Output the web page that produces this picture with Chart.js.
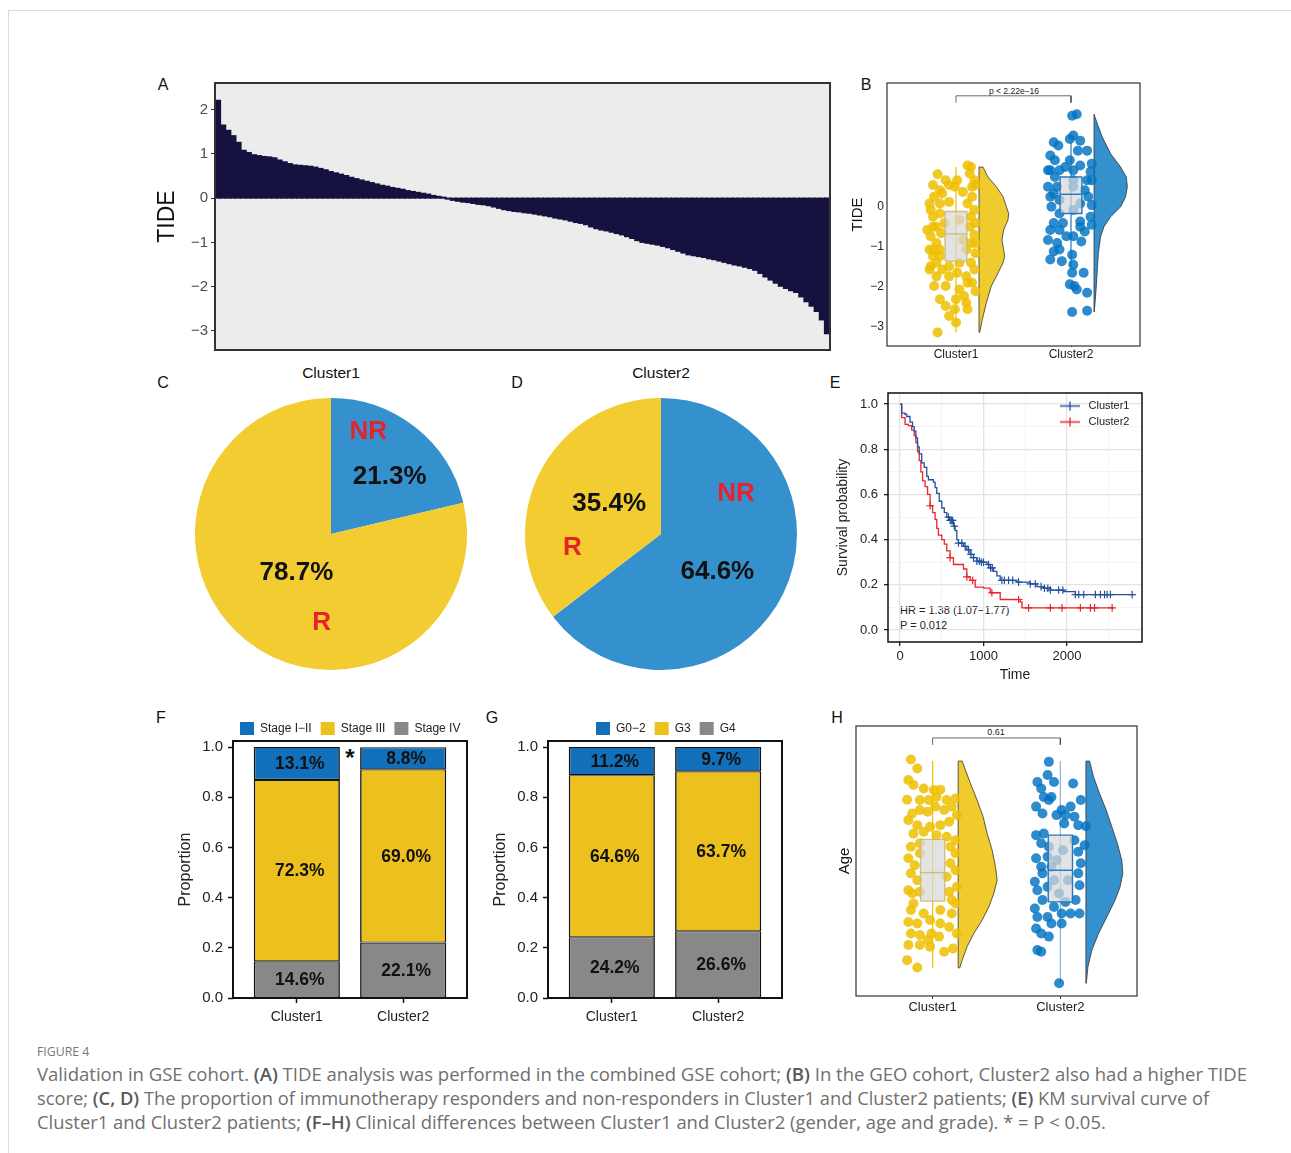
<!DOCTYPE html>
<html>
<head>
<meta charset="utf-8">
<title>Figure 4</title>
<script src="https://cdn.jsdelivr.net/npm/chart.js@4.4.1/dist/chart.umd.min.js"></script>
<style>
  body { margin: 0; width: 1291px; height: 1153px; overflow: hidden; position: relative; background: #fff; font-family: "Liberation Sans", Arial, sans-serif; color: #111; }
  canvas { position: absolute; }
  .c { position: absolute; transform: translate(-50%, -50%); white-space: nowrap; }
  .lt { position: absolute; white-space: nowrap; }
  #card { position: absolute; left: 8px; top: 10px; width: 1400px; height: 1300px; border-left: 1px solid #dcdcdc; border-top: 1px solid #dcdcdc; }
  .cap { position: absolute; left: 37px; font-family: "Open Sans", "Noto Sans", sans-serif; font-size: 18px; line-height: 24px; color: #6f6f6f; white-space: nowrap; transform-origin: 0 50%; }
  .cap b { font-weight: 600; color: #585858; }
</style>
</head>
<body>
<div id="card"></div>

<div class="c" style="left:163px;top:85px;font-size:16px">A</div>
<div class="c" style="left:866px;top:85px;font-size:16px">B</div>
<div class="c" style="left:163px;top:383px;font-size:16px">C</div>
<div class="c" style="left:517px;top:383px;font-size:16px">D</div>
<div class="c" style="left:835px;top:383px;font-size:16px">E</div>
<div class="c" style="left:161px;top:718px;font-size:16px">F</div>
<div class="c" style="left:492px;top:718px;font-size:16px">G</div>
<div class="c" style="left:837px;top:718px;font-size:16px">H</div>

<div class="c" style="left:331px;top:373px;font-size:15.5px">Cluster1</div>
<div class="c" style="left:661px;top:373px;font-size:15.5px">Cluster2</div>
<div class="c" style="left:1014px;top:91px;font-size:8.5px;color:#222">p &lt; 2.22e&#8722;16</div>
<div class="c" style="left:996px;top:732px;font-size:9px;color:#222">0.61</div>
<div class="c" style="left:350px;top:758px;font-size:24px;font-weight:bold">*</div>
<div class="lt" style="left:900px;top:604px;font-size:11px;line-height:13px;color:#222">HR = 1.38 (1.07&#8722;1.77)</div>
<div class="lt" style="left:900px;top:619px;font-size:11px;line-height:13px;color:#222">P = 0.012</div>

<div class="cap fit" data-w="52" style="top:1043px;font-size:13px;line-height:16px;color:#777">FIGURE 4</div>
<div class="cap fit" data-w="1210" style="top:1062px">Validation in GSE cohort. <b>(A)</b> TIDE analysis was performed in the combined GSE cohort; <b>(B)</b> In the GEO cohort, Cluster2 also had a higher TIDE</div>
<div class="cap fit" data-w="1172" style="top:1086px">score; <b>(C, D)</b> The proportion of immunotherapy responders and non-responders in Cluster1 and Cluster2 patients; <b>(E)</b> KM survival curve of</div>
<div class="cap fit" data-w="1069" style="top:1110px">Cluster1 and Cluster2 patients; <b>(F&#8211;H)</b> Clinical differences between Cluster1 and Cluster2 (gender, age and grade). * = P &lt; 0.05.</div>
<div class="lt fit" data-w="282" style="left:228px;top:85px;font-size:29px;font-weight:bold;line-height:30px;transform-origin:0 50%">Combined GSE cohort</div>

<script>
// ---------- data ----------
const clusters = ['Cluster1', 'Cluster2'];

// A: sorted TIDE score per sample
const tideSorted = [
  2.20, 1.64, 1.52, 1.40, 1.25, 1.07, 1.02, 0.97, 0.95, 0.93,
  0.92, 0.90, 0.85, 0.81, 0.77, 0.74, 0.73, 0.72, 0.71, 0.69,
  0.66, 0.63, 0.59, 0.56, 0.53, 0.50, 0.46, 0.43, 0.40, 0.37,
  0.34, 0.31, 0.28, 0.26, 0.23, 0.21, 0.19, 0.16, 0.14, 0.12,
  0.10, 0.08, 0.05, 0.03, 0.01, -0.01, -0.04, -0.06, -0.08, -0.09,
  -0.11, -0.13, -0.14, -0.16, -0.19, -0.22, -0.25, -0.27, -0.29, -0.30,
  -0.32, -0.33, -0.35, -0.37, -0.39, -0.41, -0.44, -0.46, -0.48, -0.51,
  -0.54, -0.56, -0.59, -0.64, -0.68, -0.71, -0.73, -0.76, -0.79, -0.82,
  -0.86, -0.90, -0.95, -0.99, -1.01, -1.03, -1.05, -1.08, -1.11, -1.15,
  -1.19, -1.23, -1.27, -1.29, -1.31, -1.33, -1.36, -1.38, -1.41, -1.44,
  -1.47, -1.50, -1.52, -1.55, -1.58, -1.62, -1.69, -1.77, -1.84, -1.91,
  -1.98, -2.03, -2.08, -2.12, -2.22, -2.33, -2.43, -2.55, -2.74, -3.05
];
const tideTicks = [2, 1, 0, -1, -2, -3];

// B: TIDE raincloud (point = [jitter, value])
const tideC1Pts = [
  [-0.16,0.81],[-0.09,0.66],[-0.20,0.54],[-0.14,0.41],[-0.01,0.50],[0.06,0.37],[0.13,0.99],[0.10,1.03],[0.16,0.66],[0.17,0.54],
  [0.10,0.08],[0.16,-0.08],[-0.20,-0.25],[-0.14,-0.17],[-0.06,0.12],[-0.17,-0.50],[-0.22,-0.74],[-0.13,-0.66],[0.12,-0.50],[0.16,-0.70],
  [0.17,-0.91],[0.09,-1.07],[-0.14,-1.07],[-0.20,-1.24],[-0.17,-1.40],[-0.12,-1.57],[-0.06,-1.49],[0.13,-1.40],[0.16,-1.57],[0.09,-1.74],
  [-0.17,-1.74],[-0.19,-1.98],[-0.09,-1.98],[0.03,-2.07],[0.14,-1.90],[0.17,-2.11],[-0.14,-2.31],[0.00,-2.31],[0.07,-2.23],[-0.09,-2.48],
  [-0.01,-2.56],[-0.06,-2.73],[0.10,-2.56],[0.09,-2.40],[0.00,-2.89],[-0.16,-3.14],[-0.25,-0.58],[-0.23,-1.07],[-0.23,0.08],[0.01,0.66],
  [0.12,0.83],[-0.14,0.08],[0.14,0.25],[0.03,-0.33],[-0.10,-0.41],[0.03,-1.40],[-0.06,-1.74],[0.01,-1.65],[0.10,-1.90],[-0.23,-1.57],
  [-0.17,-0.91],[-0.22,-0.08],[-0.19,0.25],[-0.12,0.33],[0.13,-0.25],[0.17,-0.41],[0.06,-0.83],[-0.22,-1.49],[-0.14,-1.24],[0.17,-1.16],
  [0.14,0.50],[-0.06,0.54],[-0.20,-0.50],[0.13,-0.91],[-0.19,-1.07]
];
const tideC2Pts = [
  [0.05,2.31],[0.01,2.27],[0.02,1.78],[-0.01,1.69],[-0.15,1.61],[-0.11,1.53],[-0.18,1.28],[0.06,1.40],[0.14,1.40],[-0.01,1.16],
  [0.08,1.03],[0.18,1.07],[-0.18,0.91],[-0.10,0.91],[0.17,0.87],[-0.14,0.74],[0.02,0.66],[0.14,0.66],[-0.20,0.50],[-0.12,0.50],
  [0.18,0.66],[-0.18,0.25],[-0.10,0.17],[0.15,0.25],[0.08,0.08],[-0.17,0.00],[-0.10,-0.17],[0.02,-0.08],[0.17,-0.25],[0.18,-0.45],
  [-0.18,-0.58],[-0.10,-0.58],[0.08,-0.50],[-0.20,-0.83],[-0.12,-0.91],[0.02,-0.74],[-0.15,-1.12],[-0.10,-1.07],[-0.18,-1.32],[-0.08,-1.36],
  [0.09,-0.87],[0.01,-1.20],[0.02,-1.45],[0.11,-1.65],[0.01,-1.65],[-0.01,-1.94],[0.03,-1.98],[0.05,-2.07],[0.14,-2.15],[0.14,-2.60],
  [0.01,-2.63],[0.08,-0.37],[-0.07,-0.41],[-0.15,-0.41],[0.12,-0.62],[-0.04,-0.74],[0.02,0.50],[0.12,0.41],[-0.14,1.16],[0.08,1.65],
  [-0.05,0.99],[0.02,0.91],[-0.20,0.91],[-0.15,0.33],[0.18,0.04]
];
const tideV1Y = [0.99, 0.74, 0.50, 0.25, 0.00, -0.17, -0.33, -0.58, -0.83, -1.07, -1.24, -1.40, -1.74, -1.98, -2.40, -2.81, -3.14];
const tideV1W = [0.035, 0.078, 0.151, 0.209, 0.238, 0.258, 0.252, 0.214, 0.200, 0.214, 0.223, 0.209, 0.151, 0.107, 0.064, 0.029, 0.006];
const tideV2Y = [2.31, 2.07, 1.74, 1.32, 0.99, 0.74, 0.50, 0.25, 0.00, -0.25, -0.50, -0.74, -1.16, -1.57, -1.98, -2.40, -2.63];
const tideV2W = [0.005, 0.029, 0.072, 0.145, 0.232, 0.281, 0.290, 0.275, 0.232, 0.145, 0.087, 0.058, 0.038, 0.029, 0.020, 0.009, 0.002];
const tideC1Box = [-3.14, -1.36, -0.68, -0.12, 0.99];   // low, q1, median, q3, high
const tideC2Box = [-1.49, -0.17, 0.31, 0.74, 1.62];
const tideBracketX = [1, 1, 2, 2];
const tideBracketY = [2.60, 2.77, 2.77, 2.60];
const tideBTicks = [0, -1, -2, -3];

// C, D: responders
const pieC1 = [21.3, 78.7];   // NR, R
const pieC2 = [64.6, 35.4];

// E: KM curves
const kmC1T = [0,20,60,80,120,150,170,190,210,230,260,290,320,340,400,420,440,470,500,530,560,590,640,660,680,700,760,800,840,880,920,960,1040,1080,1120,1160,1200,1400,1560,1640,1720,1800,1960,2100,2800];
const kmC1S = [1.0,0.96,0.955,0.945,0.92,0.9,0.88,0.85,0.81,0.78,0.74,0.72,0.68,0.665,0.655,0.63,0.605,0.57,0.54,0.52,0.5,0.485,0.46,0.44,0.4,0.385,0.37,0.355,0.335,0.32,0.305,0.3,0.29,0.275,0.26,0.24,0.22,0.212,0.204,0.192,0.185,0.177,0.17,0.157,0.157];
const kmC2T = [0,20,60,100,140,170,190,210,230,250,270,300,330,360,390,420,440,460,500,530,560,600,640,760,800,840,900,1000,1080,1200,1440,1460,2560];
const kmC2S = [1.0,0.94,0.91,0.905,0.885,0.86,0.83,0.79,0.75,0.70,0.66,0.635,0.6,0.55,0.52,0.49,0.45,0.42,0.4,0.38,0.35,0.32,0.29,0.27,0.235,0.22,0.19,0.185,0.165,0.135,0.125,0.098,0.098];
const kmC1Cens = [580,600,615,630,650,700,740,780,820,850,880,920,950,975,1000,1060,1085,1105,1220,1250,1300,1350,1420,1560,1620,1690,1730,1770,1800,1900,1950,2100,2140,2200,2340,2400,2450,2480,2520,2780];
const kmC2Cens = [360,600,800,870,1100,1420,1540,1800,1940,2160,2280,2330,2540];
const kmXTicks = [0, 500, 1000, 1500, 2000, 2500];
const kmYTicks = [0, 0.1, 0.2, 0.3, 0.4, 0.5, 0.6, 0.7, 0.8, 0.9, 1.0];

// F, G: proportions, bottom to top
const stageNames = ['Stage IV', 'Stage III', 'Stage I\u2212II'];
const stageC1 = [14.6, 72.3, 13.1];
const stageC2 = [22.1, 69.0, 8.8];
const gradeNames = ['G4', 'G3', 'G0\u22122'];
const gradeC1 = [24.2, 64.6, 11.2];
const gradeC2 = [26.6, 63.7, 9.7];
const propTicks = [0, 0.2, 0.4, 0.6, 0.8, 1.0];

// H: age raincloud
const ageC1Pts = [
  [-0.17,86.3],[-0.12,84.0],[-0.19,81.0],[-0.15,79.7],[-0.07,78.8],[0.01,78.4],[0.06,78.5],[-0.20,75.9],[-0.10,75.8],[-0.03,75.8],
  [0.03,76.6],[0.11,75.8],[0.18,76.2],[-0.16,72.3],[-0.10,73.2],[-0.04,72.8],[0.02,74.1],[0.09,73.2],[0.15,74.1],[-0.19,70.6],
  [-0.12,69.3],[-0.02,68.9],[0.06,69.3],[0.13,70.2],[0.19,71.9],[-0.15,67.1],[-0.07,67.6],[0.03,66.7],[0.11,66.3],[0.18,65.4],
  [-0.17,63.7],[-0.10,64.6],[0.14,63.7],[0.18,62.0],[-0.19,60.7],[-0.14,58.9],[0.14,59.4],[0.18,57.6],[-0.17,56.8],[-0.12,55.0],
  [0.11,55.9],[0.19,53.3],[-0.19,52.4],[-0.10,52.0],[0.13,52.0],[0.18,49.0],[-0.15,49.0],[-0.17,47.3],[-0.07,46.4],[0.06,47.3],
  [0.15,46.4],[-0.19,44.2],[-0.12,43.8],[-0.02,44.7],[0.06,43.8],[0.13,42.9],[0.19,41.2],[-0.17,41.2],[-0.10,40.8],[-0.01,41.2],
  [0.05,40.4],[-0.19,38.2],[-0.10,38.2],[-0.02,37.8],[0.09,36.5],[0.16,37.3],[-0.20,34.3],[-0.12,32.4],[-0.04,39.5],[-0.10,62.0],
  [-0.16,51.6],[0.15,49.9]
];
const ageC2Pts = [
  [-0.09,85.7],[-0.18,80.5],[-0.10,82.3],[-0.05,80.5],[0.10,80.1],[-0.15,78.8],[-0.13,76.6],[-0.07,76.6],[-0.19,74.1],[-0.09,75.8],
  [0.01,73.2],[0.08,74.1],[0.16,75.8],[-0.14,72.3],[-0.03,71.9],[0.04,71.9],[0.11,71.5],[0.20,69.0],[-0.19,66.7],[-0.13,67.1],
  [0.03,69.7],[0.14,69.3],[-0.15,64.6],[-0.09,63.7],[0.11,65.4],[0.19,64.1],[-0.19,60.7],[-0.10,61.1],[0.14,62.4],[-0.15,58.5],
  [-0.07,58.5],[0.16,59.4],[-0.20,54.6],[-0.14,56.8],[0.14,56.8],[-0.18,52.4],[-0.10,53.3],[0.15,53.7],[-0.20,47.7],[-0.14,49.9],
  [-0.05,48.1],[0.04,49.4],[0.12,49.9],[-0.18,45.5],[-0.10,45.5],[0.01,46.4],[0.08,46.4],[0.15,46.4],[-0.15,41.2],[-0.07,43.8],
  [0.01,43.8],[-0.19,42.5],[-0.09,40.4],[-0.18,36.9],[-0.15,36.5],[-0.01,28.3],[-0.03,60.2],[0.06,55.0],[-0.01,51.6],[-0.05,55.0],
  [0.02,62.8]
];
const ageV1Y = [85.9, 80.1, 75.8, 71.5, 67.1, 62.8, 58.5, 55.0, 51.6, 48.1, 44.7, 41.2, 37.8, 34.3, 32.3];
const ageV1W = [0.031, 0.096, 0.148, 0.195, 0.227, 0.266, 0.292, 0.305, 0.279, 0.240, 0.188, 0.122, 0.070, 0.031, 0.013];
const ageV2Y = [85.9, 81.8, 77.5, 73.2, 68.9, 64.5, 60.2, 56.8, 53.3, 49.9, 45.5, 41.2, 36.9, 32.6, 28.3];
const ageV2W = [0.029, 0.060, 0.107, 0.159, 0.203, 0.247, 0.281, 0.289, 0.268, 0.229, 0.164, 0.099, 0.047, 0.016, 0.003];
const ageC1Box = [32.3, 49.6, 57.0, 65.6, 85.9];
const ageC2Box = [28.3, 49.4, 57.6, 66.7, 85.9];
const ageBracketY = [90.1, 91.9, 91.9, 90.1];

// ---------- colours ----------
const navy = '#15123f';
const yelPt = 'rgba(239,192,0,0.85)', yelViolin = '#F0CB2D', yelLine = '#EFC000', yelBox = 'rgba(205,185,110,0.9)';
const bluPt = 'rgba(0,115,194,0.82)', bluViolin = '#3590CE', bluLine = '#1f78c0';
const pieBlue = '#3590CE', pieYellow = '#F2CC30', pieRed = '#E8222A';
const kmBlue = '#24529c', kmRed = '#E8262B';
const barCols = ['#888888', '#EDC11D', '#1170B9'];

Chart.defaults.font.family = '"Liberation Sans", Arial, sans-serif';
Chart.defaults.color = '#222';
Chart.defaults.animation = false;
Chart.defaults.plugins.legend.display = false;
Chart.defaults.plugins.tooltip.enabled = false;

const minus = v => String(v).replace('-', '\u2212');
const setTicks = arr => s => { s.ticks = arr.map(v => ({ value: v })); };

function makeCanvas(left, top, w, h) {
  const c = document.createElement('canvas');
  c.width = w; c.height = h;
  c.style.left = left + 'px'; c.style.top = top + 'px';
  c.style.width = w + 'px'; c.style.height = h + 'px';
  document.body.appendChild(c);
  return c;
}

// ---------- plugins ----------
const framePlugin = {
  id: 'frame',
  defaults: { color: '#333', width: 1, bg: null },
  beforeDraw(chart, args, o) {
    if (!o.bg) return;
    const a = chart.chartArea, ctx = chart.ctx;
    ctx.save(); ctx.fillStyle = o.bg; ctx.fillRect(a.left, a.top, a.width, a.height); ctx.restore();
  },
  afterDraw(chart, args, o) {
    const a = chart.chartArea, ctx = chart.ctx;
    ctx.save(); ctx.strokeStyle = o.color; ctx.lineWidth = o.width;
    ctx.strokeRect(a.left, a.top, a.width, a.height); ctx.restore();
  }
};

// puts the legend box where the figure has it
const legendBox = {
  id: 'legendBox',
  afterLayout(chart, args, o) {
    const lg = chart.legend;
    if (!lg || o.left == null) return;
    lg.left = o.left; lg.top = o.top; lg.right = o.left + o.width; lg.bottom = o.top + o.height;
    lg.width = o.width; lg.height = o.height;
  }
};

const segLabels = {
  id: 'segLabels',
  afterDatasetsDraw(chart) {
    const ctx = chart.ctx;
    ctx.save();
    ctx.font = 'bold 17.5px "Liberation Sans", Arial, sans-serif';
    ctx.fillStyle = '#111'; ctx.textAlign = 'center'; ctx.textBaseline = 'middle';
    chart.data.datasets.forEach((ds, d) => {
      chart.getDatasetMeta(d).data.forEach((el, i) => {
        const p = el.getProps(['x', 'y', 'base'], true);
        ctx.fillText((ds.data[i].y * 100).toFixed(1) + '%', p.x + 3, (p.y + p.base) / 2 + 1);
      });
    });
    ctx.restore();
  }
};

const pieText = {
  id: 'pieText',
  afterDatasetsDraw(chart, args, o) {
    const arc = chart.getDatasetMeta(0).data[0];
    const { x, y, outerRadius } = arc.getProps(['x', 'y', 'outerRadius'], true);
    const ctx = chart.ctx;
    ctx.save();
    ctx.textAlign = 'center'; ctx.textBaseline = 'middle';
    ctx.font = 'bold 26px "Liberation Sans", Arial, sans-serif';
    o.text.forEach((t, i) => {
      const a = o.angle[i] * Math.PI / 180, r = o.radius[i] * outerRadius;
      ctx.fillStyle = o.color[i];
      ctx.fillText(t, x + r * Math.sin(a), y - r * Math.cos(a));
    });
    ctx.restore();
  }
};

// ---------- A: waterfall ----------
new Chart(makeCanvas(150, 63, 700, 307), {
  type: 'bar',
  data: {
    labels: tideSorted.map((v, i) => i + 1),
    datasets: [{ data: tideSorted, backgroundColor: navy, borderWidth: 0, inflateAmount: 1, barPercentage: 1, categoryPercentage: 1 }]
  },
  options: {
    responsive: false, devicePixelRatio: 1,
    layout: { padding: { left: 0, top: 20, right: 20, bottom: 20 } },
    scales: {
      x: { display: false },
      y: {
        min: -3.43, max: 2.6,
        afterBuildTicks: setTicks(tideTicks),
        afterFit: s => { s.width = 65; },
        ticks: { callback: minus, font: { size: 15 }, color: '#4d4d4d', padding: 3 },
        grid: { drawOnChartArea: false, tickLength: 4, tickColor: '#333' },
        border: { display: false },
        title: { display: true, text: 'TIDE', font: { size: 23 }, color: '#111', padding: { top: 4 } }
      }
    },
    plugins: { frame: { color: '#333', width: 2, bg: '#ececec' } }
  },
  plugins: [framePlugin]
});

// ---------- raincloud helper (B, H) ----------
function rain(cx, pts, vy, vw, box, ptCol, violinCol, lineCol, boxLine) {
  const base = cx + 0.2, hw = 0.095;
  const shape = [{ x: base, y: vy[0] }]
    .concat(vy.map((y, i) => ({ x: base + vw[i], y })))
    .concat([{ x: base, y: vy[vy.length - 1] }, { x: base, y: vy[0] }]);
  return [
    { data: shape, showLine: true, fill: 'shape', backgroundColor: violinCol, borderColor: '#333', borderWidth: 0.8, pointRadius: 0, order: 6 },
    { data: [{ x: cx, y: box[0] }, { x: cx, y: box[4] }], showLine: true, borderColor: lineCol, borderWidth: 1.2, pointRadius: 0, order: 5 },
    { data: pts.map(p => ({ x: cx + p[0], y: p[1] })), pointRadius: 5, backgroundColor: ptCol, borderWidth: 0, order: 4 },
    { data: [{ x: cx - hw, y: box[1] }, { x: cx + hw, y: box[1] }, { x: cx + hw, y: box[3] }, { x: cx - hw, y: box[3] }, { x: cx - hw, y: box[1] }],
      showLine: true, fill: 'shape', backgroundColor: 'rgba(216,216,216,0.72)', borderColor: boxLine, borderWidth: 1.4, pointRadius: 0, order: 3 },
    { data: [{ x: cx - hw, y: box[2] }, { x: cx + hw, y: box[2] }], showLine: true, borderColor: boxLine, borderWidth: 1.4, pointRadius: 0, order: 2 }
  ];
}
function bracket(ys) {
  return { data: tideBracketX.map((x, i) => ({ x, y: ys[i] })), showLine: true, borderColor: '#444', borderWidth: 0.8, pointRadius: 0, order: 0 };
}
function clusterX(fontSize, height, tickLen) {
  return {
    type: 'linear', min: 0.4, max: 2.6,
    afterBuildTicks: setTicks([1, 2]),
    afterFit: s => { s.height = height; },
    ticks: { callback: v => clusters[v - 1], font: { size: fontSize }, padding: tickLen > 2 ? 1 : 0, autoSkip: false, maxRotation: 0 },
    grid: { drawOnChartArea: false, tickLength: tickLen, tickColor: '#333' },
    border: { display: false }
  };
}

// ---------- B ----------
new Chart(makeCanvas(845, 63, 315, 305), {
  type: 'scatter',
  data: {
    datasets: rain(1, tideC1Pts, tideV1Y, tideV1W, tideC1Box, yelPt, yelViolin, yelLine, yelBox)
      .concat(rain(2, tideC2Pts, tideV2Y, tideV2W, tideC2Box, bluPt, bluViolin, bluLine, bluLine))
      .concat([bracket(tideBracketY)])
  },
  options: {
    responsive: false, devicePixelRatio: 1,
    layout: { padding: { left: 0, top: 20, right: 20, bottom: 0 } },
    scales: {
      x: clusterX(12, 22, 1),
      y: {
        min: -3.48, max: 3.09,
        afterBuildTicks: setTicks(tideBTicks),
        afterFit: s => { s.width = 42; },
        ticks: { callback: minus, font: { size: 12 }, padding: 3 },
        grid: { drawOnChartArea: false, drawTicks: false, tickLength: 0 },
        border: { display: false },
        title: { display: true, text: 'TIDE', font: { size: 15 }, color: '#111', padding: { top: 4 } }
      }
    },
    plugins: { frame: { color: '#333', width: 1.2 } }
  },
  plugins: [framePlugin]
});

// ---------- C, D: pies ----------
function pie(left, top, values, text, angle, radius, color) {
  new Chart(makeCanvas(left, top, 292, 292), {
    type: 'pie',
    data: { labels: ['NR', 'R'], datasets: [{ data: values, backgroundColor: [pieBlue, pieYellow], borderWidth: 0 }] },
    options: {
      responsive: false, devicePixelRatio: 1,
      layout: { padding: 10 },
      plugins: { pieText: { text, angle, radius, color } }
    },
    plugins: [pieText]
  });
}
pie(185, 388, pieC1, ['NR', pieC1[0].toFixed(1) + '%', pieC1[1].toFixed(1) + '%', 'R'],
    [20, 46, 222, 186], [0.8, 0.6, 0.38, 0.66], [pieRed, '#111', '#111', pieRed]);
pie(515, 388, pieC2, ['NR', pieC2[0].toFixed(1) + '%', pieC2[1].toFixed(1) + '%', 'R'],
    [62, 124, 300, 261], [0.625, 0.5, 0.44, 0.66], [pieRed, '#111', '#111', pieRed]);

// ---------- E: KM ----------
function survAt(ts, ss, t) {
  let s = ss[0];
  ts.forEach((x, i) => { if (x <= t) s = ss[i]; });
  return s;
}
function kmIcon(color) {
  const c = document.createElement('canvas');
  c.width = 24; c.height = 11;
  const g = c.getContext('2d');
  g.strokeStyle = color; g.lineWidth = 1.3;
  g.beginPath(); g.moveTo(2, 5.5); g.lineTo(22, 5.5); g.moveTo(12, 1); g.lineTo(12, 10); g.stroke();
  return c;
}
const kmMajorX = v => v % 1000 === 0;
const kmMajorY = v => Math.round(v * 10) % 2 === 0;
new Chart(makeCanvas(830, 373, 330, 315), {
  type: 'scatter',
  data: {
    datasets: [
      { label: 'Cluster1', data: kmC1T.map((t, i) => ({ x: t, y: kmC1S[i] })), showLine: true, stepped: true, borderColor: kmBlue, borderWidth: 1.3, pointRadius: 0 },
      { label: 'Cluster2', data: kmC2T.map((t, i) => ({ x: t, y: kmC2S[i] })), showLine: true, stepped: true, borderColor: kmRed, borderWidth: 1.3, pointRadius: 0 },
      { data: kmC1Cens.map(t => ({ x: t, y: survAt(kmC1T, kmC1S, t) })), pointStyle: 'cross', pointRadius: 3.8, borderColor: kmBlue, borderWidth: 1.2 },
      { data: kmC2Cens.map(t => ({ x: t, y: survAt(kmC2T, kmC2S, t) })), pointStyle: 'cross', pointRadius: 3.8, borderColor: kmRed, borderWidth: 1.2 }
    ]
  },
  options: {
    responsive: false, devicePixelRatio: 1,
    layout: { padding: { left: 0, top: 20, right: 17, bottom: 0 } },
    scales: {
      x: {
        type: 'linear', min: -144, max: 2898,
        afterBuildTicks: setTicks(kmXTicks),
        afterFit: s => { s.height = 46; },
        ticks: { callback: v => kmMajorX(v) ? v : '', font: { size: 13 }, padding: 3, autoSkip: false, maxRotation: 0 },
        grid: {
          color: c => c.tick && kmMajorX(c.tick.value) ? '#e3e3e3' : '#efefef',
          lineWidth: c => c.tick && kmMajorX(c.tick.value) ? 1.3 : 0.7,
          tickColor: c => c.tick && kmMajorX(c.tick.value) ? '#222' : 'rgba(0,0,0,0)',
          tickLength: 4
        },
        border: { display: false },
        title: { display: true, text: 'Time', font: { size: 14 }, padding: { top: 0, bottom: 4 } }
      },
      y: {
        min: -0.053, max: 1.049,
        afterBuildTicks: setTicks(kmYTicks),
        afterFit: s => { s.width = 58; },
        ticks: { callback: v => kmMajorY(v) ? v.toFixed(1) : '', font: { size: 13 }, padding: 6, autoSkip: false },
        grid: {
          color: c => c.tick && kmMajorY(c.tick.value) ? '#e3e3e3' : '#efefef',
          lineWidth: c => c.tick && kmMajorY(c.tick.value) ? 1.3 : 0.7,
          tickColor: c => c.tick && kmMajorY(c.tick.value) ? '#222' : 'rgba(0,0,0,0)',
          tickLength: 4
        },
        border: { display: false },
        title: { display: true, text: 'Survival probability', font: { size: 14 }, padding: { top: 5 } }
      }
    },
    plugins: {
      frame: { color: '#111', width: 1.5 },
      legend: {
        display: true, position: 'right', align: 'start', maxWidth: 1,
        labels: {
          usePointStyle: true, pointStyleWidth: 26, padding: 5, font: { size: 11 },
          generateLabels: chart => chart.data.datasets.slice(0, 2).map((d, i) => ({
            text: d.label, pointStyle: kmIcon(d.borderColor), fillStyle: d.borderColor, strokeStyle: d.borderColor,
            lineWidth: 0, hidden: false, datasetIndex: i, fontColor: '#222'
          }))
        }
      },
      legendBox: { left: 222, top: 22.5, width: 100, height: 40 }
    }
  },
  plugins: [framePlugin, legendBox]
});

// ---------- F, G: stacked proportions ----------
function propChart(left, names, c1, c2, legendLeft) {
  new Chart(makeCanvas(left, 700, 317, 334), {
    type: 'bar',
    data: {
      datasets: names.map((n, k) => ({
        label: n,
        data: [{ x: 1, y: c1[k] / 100 }, { x: 2, y: c2[k] / 100 }],
        backgroundColor: barCols[k], borderColor: '#111',
        borderWidth: { left: 1.6, right: 1.6, top: 1.1, bottom: 1.1 }, borderSkipped: false,
        barPercentage: 0.9, categoryPercentage: 0.9
      }))
    },
    options: {
      responsive: false, devicePixelRatio: 1,
      layout: { padding: { left: 0, top: 40, right: 20, bottom: 0 } },
      scales: {
        x: {
          type: 'linear', min: 0.4, max: 2.6, stacked: true, offset: false,
          afterBuildTicks: setTicks([1, 2]),
          afterFit: s => { s.height = 36; },
          ticks: { callback: v => clusters[v - 1], font: { size: 14 }, padding: 6, autoSkip: false, maxRotation: 0 },
          grid: { offset: false, drawOnChartArea: false, tickLength: 5, tickColor: '#111', tickWidth: 1.5 },
          border: { display: false }
        },
        y: {
          min: 0, max: 1.024, stacked: true,
          afterBuildTicks: setTicks(propTicks),
          afterFit: s => { s.width = 63; },
          ticks: { callback: v => v.toFixed(1), font: { size: 15 }, padding: 5 },
          grid: { drawOnChartArea: false, tickLength: 5, tickColor: '#111', tickWidth: 1.5 },
          border: { display: false },
          title: { display: true, text: 'Proportion', font: { size: 16 }, padding: { top: 6 } }
        }
      },
      plugins: {
        frame: { color: '#111', width: 2 },
        legend: {
          display: true, position: 'top', align: 'start', maxHeight: 1,
          labels: {
            boxWidth: 14, boxHeight: 13, padding: 9, font: { size: 12 },
            generateLabels: chart => chart.data.datasets.map((d, i) => ({
              text: d.label, fillStyle: d.backgroundColor, strokeStyle: 'rgba(0,0,0,0)', lineWidth: 0,
              hidden: false, datasetIndex: i, fontColor: '#222'
            })).reverse()
          }
        },
        legendBox: { left: legendLeft, top: 13, width: 300, height: 40 }
      }
    },
    plugins: [framePlugin, legendBox, segLabels]
  });
}
propChart(170, stageNames, stageC1, stageC2, 61);
propChart(485, gradeNames, gradeC1, gradeC2, 102);

// ---------- H ----------
new Chart(makeCanvas(830, 706, 327, 314), {
  type: 'scatter',
  data: {
    datasets: rain(1, ageC1Pts, ageV1Y, ageV1W, ageC1Box, yelPt, yelViolin, yelLine, yelBox)
      .concat(rain(2, ageC2Pts, ageV2Y, ageV2W, ageC2Box, bluPt, bluViolin, 'rgba(31,120,192,0.55)', bluLine))
      .concat([bracket(ageBracketY)])
  },
  options: {
    responsive: false, devicePixelRatio: 1,
    layout: { padding: { left: 0, top: 20, right: 20, bottom: 0 } },
    scales: {
      x: clusterX(13, 24, 3),
      y: {
        min: 25, max: 95,
        afterFit: s => { s.width = 26; },
        ticks: { display: false },
        grid: { display: false },
        border: { display: false },
        title: { display: true, text: 'Age', font: { size: 15 }, color: '#111', padding: { top: 6 } }
      }
    },
    plugins: { frame: { color: '#333', width: 1.2 } }
  },
  plugins: [framePlugin]
});

// squeeze caption lines and the condensed title to the widths in the figure
document.querySelectorAll('.fit').forEach(el => {
  el.style.transform = 'scaleX(' + (+el.dataset.w / el.offsetWidth) + ')';
});
</script>
</body>
</html>
